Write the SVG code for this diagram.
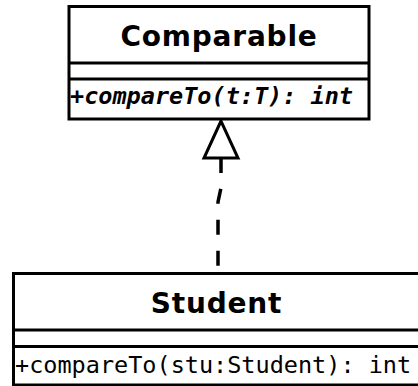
<svg xmlns="http://www.w3.org/2000/svg" width="418" height="386" viewBox="0 0 418 386">
<style>
.box{fill:#fff;stroke:#000;stroke-width:3}
.sep{stroke:#000;stroke-width:3}
.title{font-family:"DejaVu Sans",sans-serif;font-weight:bold;font-size:28px;letter-spacing:0.8px;text-anchor:middle;fill:#000}
.op{font-family:"DejaVu Sans Mono",monospace;font-size:23.5px;fill:#000}
.abs{font-weight:bold;font-style:italic}
.conn{fill:none;stroke:#000;stroke-width:3.5;stroke-dasharray:15 16}
.head{fill:#fff;stroke:#000;stroke-width:3;stroke-linejoin:miter}
</style>
<rect width="418" height="386" fill="#fff"/>
<g id="connectors">
<path class="conn" d="M221,158 L221,188 L218,202 L218,272"/>
<polygon class="head" points="221,121 204,158 238,158"/>
</g>
<g id="Comparable">
<rect class="box" x="69" y="6.5" width="300" height="112.5"/>
<line class="sep" x1="69" y1="63" x2="369" y2="63"/>
<line class="sep" x1="69" y1="79" x2="369" y2="79"/>
<text class="title" x="219" y="46">Comparable</text>
<text class="op abs" x="70" y="104">+compareTo(t:T): int</text>
</g>
<g id="Student">
<rect class="box" x="13.5" y="273.5" width="420" height="111.5"/>
<line class="sep" x1="13.5" y1="330" x2="420" y2="330"/>
<line class="sep" x1="13.5" y1="346.5" x2="420" y2="346.5"/>
<text class="title" x="216.5" y="313">Student</text>
<text class="op" x="15" y="373">+compareTo(stu:Student): int</text>
</g>
</svg>
